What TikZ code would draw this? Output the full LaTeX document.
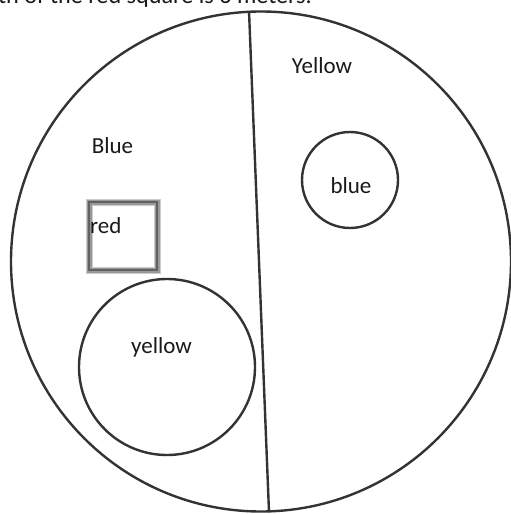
\documentclass[tikz,border=0pt]{standalone}
\usepackage{fontspec}
\setmainfont{Carlito}
\begin{document}
\begin{tikzpicture}[x=1pt,y=-1pt,
  outline/.style={draw=black!80,line width=2.4pt},
  lbl/.style={inner sep=0pt,font=\fontsize{23}{27}\selectfont,text=black!90}]
\clip (0,0) rectangle (511,514);
\useasboundingbox (0,0) rectangle (511,514);
\fill[white] (0,0) rectangle (511,514);
% caption, cut off at the top
\node[lbl,anchor=base east,font=\fontsize{24.2}{29}\selectfont] (cap) at (312,4) {The length of the red square is 6 meters.};
% big circle
\node[outline,circle,minimum size=500pt,inner sep=0pt] (big) at (261,261.5) {};
% dividing line
\coordinate (ltop) at (249,11);
\coordinate (lbot) at (269,512);
\draw[black!80,line width=2.4pt] (ltop) -- (lbot);
% small circles
\node[outline,circle,minimum size=96pt,inner sep=0pt] (bluec) at (350,180) {};
\node[outline,circle,minimum size=176pt,inner sep=0pt] (yellowc) at (167,367) {};
% red square (blurry grey border)
\node[draw=black!20,line width=7pt,minimum width=68pt,minimum height=68pt,inner sep=0pt] (sq) at (123,236) {};
\node[draw=black!40,line width=5pt,minimum width=68pt,minimum height=68pt,inner sep=0pt] (sq1) at (123,236) {};
\node[draw=black!62,line width=2.5pt,minimum width=68pt,minimum height=68pt,inner sep=0pt] (sq2) at (123,236) {};
% labels
\node[lbl,anchor=base] (tBlue) at (112.5,153) {Blue};
\node[lbl,anchor=base] (tYellow) at (322,73) {Yellow};
\node[lbl,anchor=base] (tblue) at (351,193) {blue};
\node[lbl,anchor=base] (tyellow) at (161.5,353) {yellow};
\node[lbl,anchor=base west] (tred) at (90,233) {red};
\end{tikzpicture}
\end{document}
